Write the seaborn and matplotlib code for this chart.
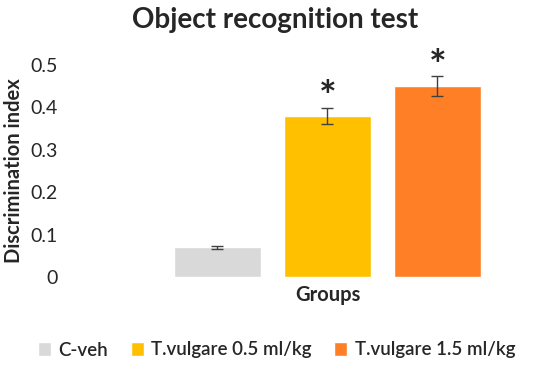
import matplotlib.pyplot as plt
import numpy as np
import pandas as pd
import seaborn as sns

groups = ['C-veh', 'T.vulgare 0.5 ml/kg', 'T.vulgare 1.5 ml/kg']
means = [0.07, 0.38, 0.45]
errors = [0.004, 0.019, 0.023]
significant = [False, True, True]
colors = ['#D9D9D9', '#FFC000', '#FF7F27']

sns.set_style('white')
plt.rcParams['font.family'] = ['Lato', 'DejaVu Sans']

df = pd.DataFrame({'x': 'Groups', 'Group': groups, 'Discrimination index': means})

fig = plt.figure(figsize=(5.5, 3.65), dpi=100)
ax = fig.add_axes([65 / 550, 88 / 365, 465 / 550, 212 / 365])

sns.barplot(data=df, x='x', y='Discrimination index', hue='Group',
            hue_order=groups, palette=colors, saturation=1, width=0.8,
            gap=0.21, errorbar=None, ax=ax, legend=True)

# error bars and significance stars on top of the bars
for patch, m, e, sig in zip(ax.patches, means, errors, significant):
    cx = patch.get_x() + patch.get_width() / 2
    ax.errorbar(cx, m, yerr=e, color='#404040', capsize=4, elinewidth=1,
                capthick=1, zorder=3)
    if sig:
        ax.text(cx, m + e + 0.02, '*', ha='center', va='center',
                fontsize=30, fontweight='bold', clip_on=False)

ax.set_xlim(-0.636, 0.491)
ax.set_ylim(0, 0.5)
ax.set_yticks([0, 0.1, 0.2, 0.3, 0.4, 0.5])
ax.set_yticklabels(['0', '0.1', '0.2', '0.3', '0.4', '0.5'])
ax.tick_params(axis='y', labelsize=14, length=0, pad=5)
ax.set_xticks([])
ax.set_xlabel('Groups', fontsize=14.5, fontweight='bold')
ax.xaxis.set_label_coords((327.5 - 65) / 465, -0.04, transform=ax.transAxes)
ax.set_ylabel('Discrimination index', fontsize=14.5, fontweight='bold', labelpad=5)
sns.despine(ax=ax, left=True, bottom=True)

fig.suptitle('Object recognition test', fontsize=20, fontweight='bold', y=0.98)

leg = ax.legend(loc='center', bbox_to_anchor=(276.5 / 550, 15 / 365),
                bbox_transform=fig.transFigure, ncol=3, frameon=False,
                prop={'size': 13.5, 'weight': 'semibold'},
                handlelength=0.7, handleheight=0.7,
                handletextpad=0.4, columnspacing=1.2)

fig.savefig('out.png', dpi=100)
